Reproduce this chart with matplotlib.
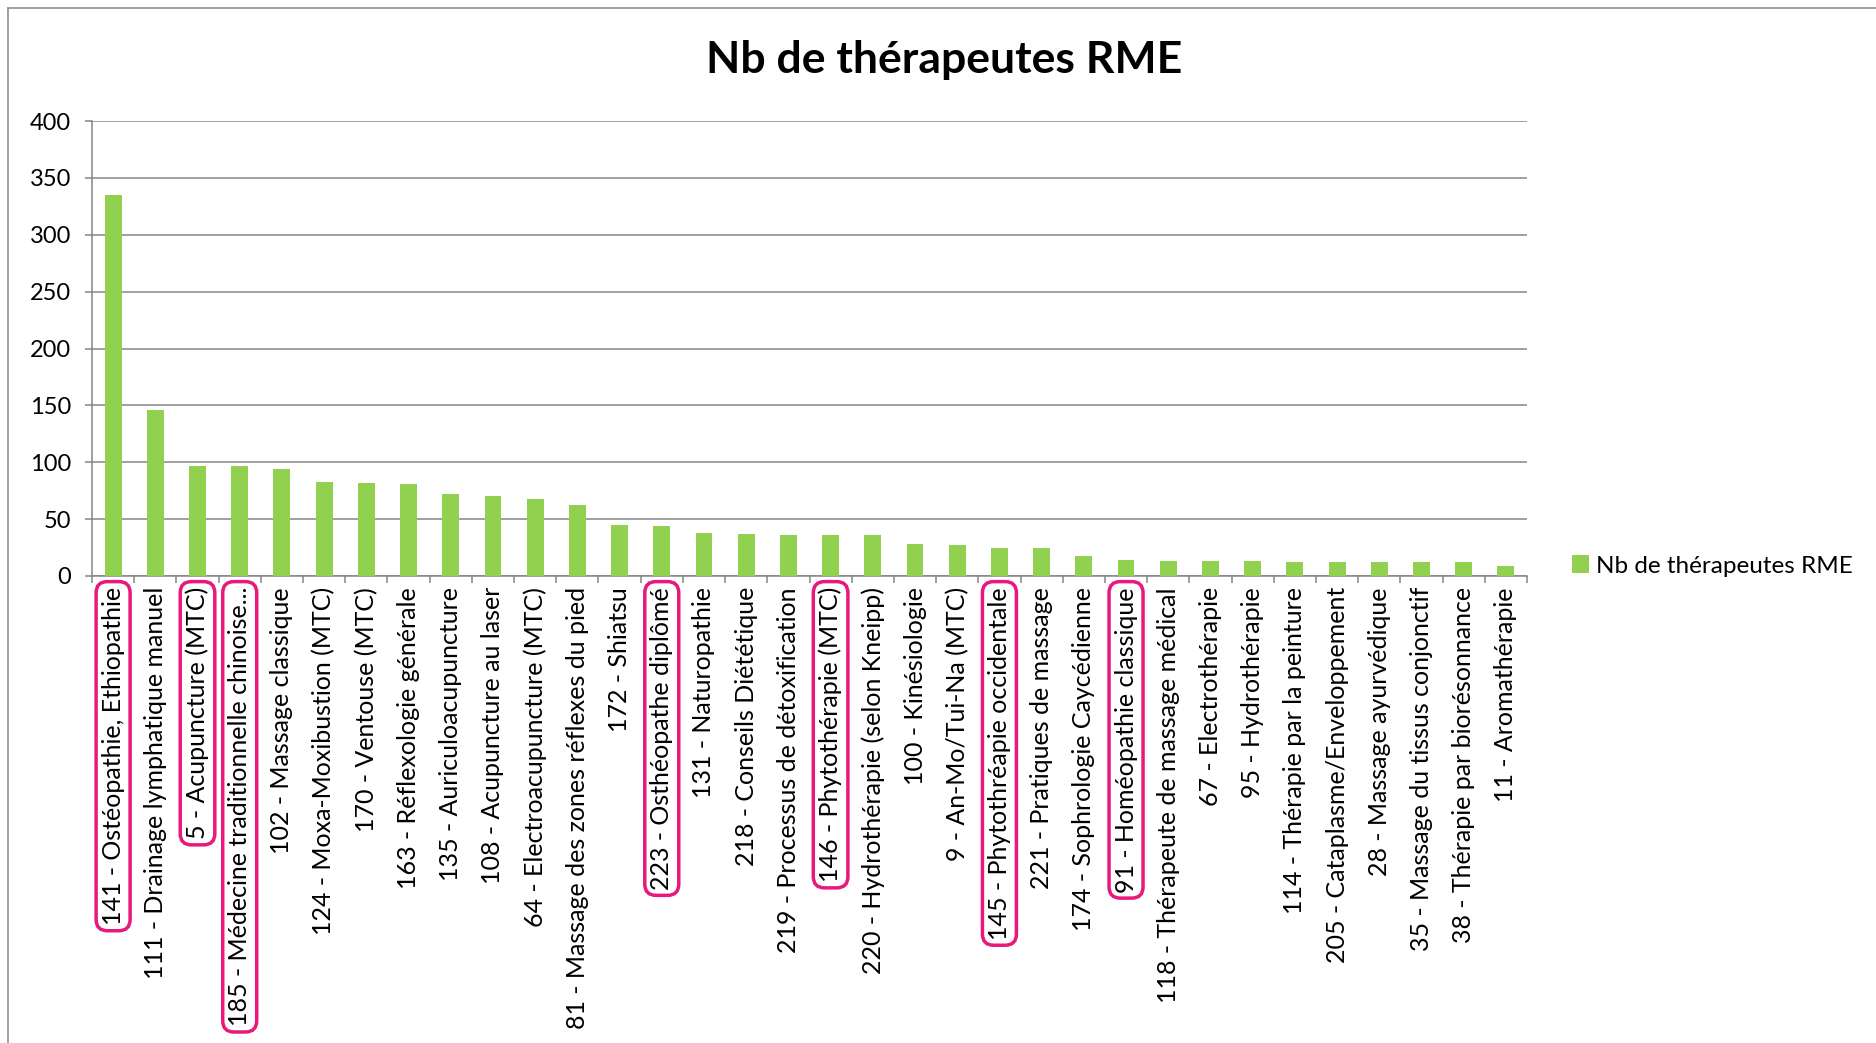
import matplotlib
matplotlib.use("Agg")
import matplotlib.pyplot as plt
from matplotlib.lines import Line2D
import numpy as np

plt.rcParams['font.family'] = ['Lato', 'DejaVu Sans']

title = "Nb de thérapeutes RME"
series_name = "Nb de thérapeutes RME"

categories = [
    "141 - Ostéopathie, Ethiopathie",
    "111 - Drainage lymphatique manuel",
    "5 - Acupuncture (MTC)",
    "185 - Médecine traditionnelle chinoise...",
    "102 - Massage classique",
    "124 - Moxa-Moxibustion (MTC)",
    "170 - Ventouse (MTC)",
    "163 - Réflexologie générale",
    "135 - Auriculoacupuncture",
    "108 - Acupuncture au laser",
    "64 - Electroacupuncture (MTC)",
    "81 - Massage des zones réflexes du pied",
    "172 - Shiatsu",
    "223 - Osthéopathe diplômé",
    "131 - Naturopathie",
    "218 - Conseils Diététique",
    "219 - Processus de détoxification",
    "146 - Phytothérapie (MTC)",
    "220 - Hydrothérapie (selon Kneipp)",
    "100 - Kinésiologie",
    "9 - An-Mo/Tui-Na (MTC)",
    "145 - Phytothréapie occidentale",
    "221 - Pratiques de massage",
    "174 - Sophrologie Caycédienne",
    "91 - Homéopathie classique",
    "118 - Thérapeute de massage médical",
    "67 - Electrothérapie",
    "95 - Hydrothérapie",
    "114 - Thérapie par la peinture",
    "205 - Cataplasme/Enveloppement",
    "28 - Massage ayurvédique",
    "35 - Massage du tissus conjonctif",
    "38 - Thérapie par biorésonnance",
    "11 - Aromathérapie",
]

values = [335, 146, 97, 97, 94, 83, 82, 81, 72, 70, 68, 62, 45, 44, 38, 37,
          36, 36, 36, 28, 27, 25, 25, 18, 14, 13, 13, 13, 12, 12, 12, 12, 12, 9]

# labels circled in the original
highlighted = [0, 2, 3, 13, 17, 21, 24]

yticks = [0, 50, 100, 150, 200, 250, 300, 350, 400]

W, H = 1876, 1043
fig = plt.figure(figsize=(W / 100, H / 100), dpi=100)
ax = fig.add_axes([92 / W, 1 - 576 / H, (1527 - 92) / W, (576 - 121) / H])

grey = "#868686"
green = "#92D050"
pink = "#E8187C"

x = np.arange(len(categories))
ax.bar(x, values, width=0.4, color=green, label=series_name, zorder=3)

ax.set_xlim(-0.5, len(categories) - 0.5)
ax.set_ylim(0, 400)
ax.set_yticks(yticks)
ax.yaxis.grid(True, color=grey, linewidth=1.1, zorder=0)
ax.set_axisbelow(True)

for s in ("top", "right"):
    ax.spines[s].set_visible(False)
for s in ("left", "bottom"):
    ax.spines[s].set_color(grey)
    ax.spines[s].set_linewidth(1.1)

ax.set_xticks(x)
ax.set_xticklabels(categories, rotation=90, ha="center", va="top")
ax.set_xticks(np.arange(len(categories) + 1) - 0.5, minor=True)
ax.tick_params(axis="x", which="major", length=0, pad=8, labelsize=18)
ax.tick_params(axis="x", which="minor", length=5, width=1.1, color=grey, direction="out")
ax.tick_params(axis="y", length=5, width=1.1, color=grey, pad=10, labelsize=17)

for i, lab in enumerate(ax.get_xticklabels()):
    if i in highlighted:
        lab.set_bbox(dict(boxstyle="round,pad=0.22,rounding_size=0.45",
                          fc="none", ec=pink, lw=2.5))

fig.text(944 / W, 1 - 60 / H, title, ha="center", va="center",
         fontsize=32, fontweight="bold")

ax.legend(loc="center left", bbox_to_anchor=(1550 / W, 1 - 566 / H),
          bbox_transform=fig.transFigure, frameon=False, fontsize=17.5,
          handlelength=0.7, handleheight=0.7, handletextpad=0.3)

# outer chart border (cut off on the right and bottom)
fig.add_artist(Line2D([8 / W, 1], [1 - 8 / H, 1 - 8 / H], color=grey, lw=1.1,
                      transform=fig.transFigure))
fig.add_artist(Line2D([8 / W, 8 / W], [0, 1 - 8 / H], color=grey, lw=1.1,
                      transform=fig.transFigure))

fig.savefig("out.png", dpi=100)
